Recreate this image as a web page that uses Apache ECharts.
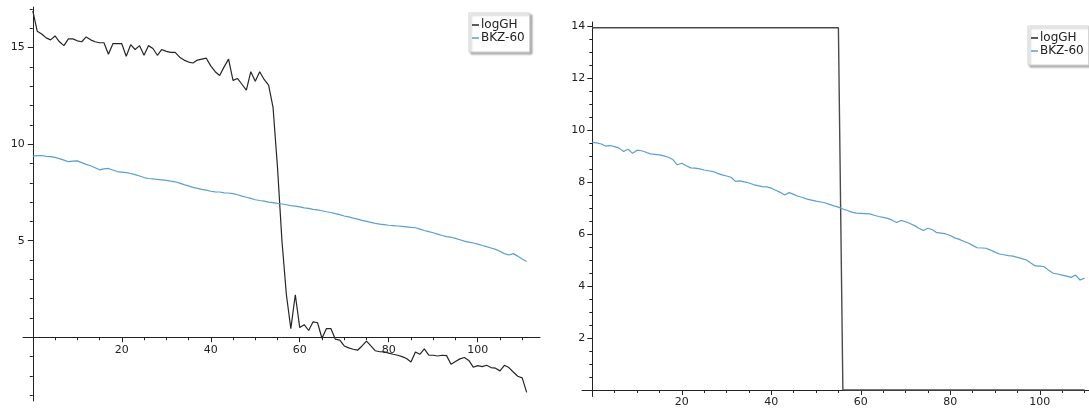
<!DOCTYPE html>
<html>
<head>
<meta charset="utf-8">
<script src="https://cdn.jsdelivr.net/npm/echarts@6/dist/echarts.min.js"></script>
<style>
  html, body { margin: 0; padding: 0; background: #fff; }
  #chart { width: 1089px; height: 409px; }
</style>
</head>
<body>
<div id="chart"></div>
<script>
// Left panel: log Gaussian-heuristic profile vs. BKZ-60 basis profile (index 0..111)
const leftLogGH = [
  16.9, 15.85, 15.7, 15.5, 15.4, 15.6, 15.3, 15.1, 15.45, 15.45,
  15.35, 15.3, 15.55, 15.4, 15.3, 15.25, 15.25, 14.65, 15.2, 15.2,
  15.2, 14.55, 15.15, 14.9, 15.1, 14.6, 15.1, 14.95, 14.6, 14.9,
  14.8, 14.75, 14.75, 14.5, 14.35, 14.25, 14.2, 14.35, 14.4, 14.45,
  14.05, 13.75, 13.55, 14.0, 14.4, 13.3, 13.4, 13.1, 12.8, 13.75,
  13.25, 13.75, 13.35, 13.05, 11.9, 8.8, 5.0, 2.2, 0.45, 2.2,
  0.5, 0.65, 0.35, 0.8, 0.75, -0.05, 0.45, 0.45, -0.1, -0.15,
  -0.45, -0.55, -0.62, -0.67, -0.45, -0.2, -0.45, -0.7, -0.75, -0.76,
  -0.82, -0.88, -0.93, -1.0, -1.1, -1.28, -0.76, -0.88, -0.6, -0.92,
  -0.93, -0.97, -0.93, -0.95, -1.4, -1.25, -1.12, -1.05, -1.2, -1.55,
  -1.47, -1.52, -1.45, -1.57, -1.6, -1.74, -1.45, -1.57, -1.8, -2.02,
  -2.1, -2.85
];
const leftBKZ = [
  9.38, 9.40, 9.41, 9.37, 9.35, 9.31, 9.25, 9.17, 9.09, 9.12,
  9.13, 9.04, 8.95, 8.88, 8.78, 8.67, 8.72, 8.74, 8.66, 8.58,
  8.55, 8.52, 8.48, 8.42, 8.35, 8.27, 8.22, 8.20, 8.17, 8.15,
  8.12, 8.08, 8.05, 7.98, 7.90, 7.84, 7.76, 7.71, 7.66, 7.62,
  7.56, 7.53, 7.52, 7.48, 7.47, 7.44, 7.38, 7.31, 7.25, 7.19,
  7.12, 7.08, 7.05, 7.00, 6.97, 6.93, 6.90, 6.86, 6.82, 6.79,
  6.75, 6.70, 6.67, 6.62, 6.60, 6.55, 6.50, 6.46, 6.40, 6.35,
  6.28, 6.23, 6.17, 6.12, 6.05, 6.00, 5.95, 5.90, 5.86, 5.83,
  5.80, 5.78, 5.76, 5.74, 5.72, 5.69, 5.67, 5.60, 5.53, 5.47,
  5.41, 5.34, 5.27, 5.21, 5.18, 5.12, 5.05, 4.98, 4.93, 4.88,
  4.82, 4.75, 4.69, 4.62, 4.55, 4.45, 4.33, 4.26, 4.33, 4.20,
  4.05, 3.92
];

// Right panel: step-shaped logGH vs. a second BKZ-60 run (index 0..110)
const rightLogGH = [
  13.93, 13.93, 13.93, 13.93, 13.93, 13.93, 13.93, 13.93, 13.93, 13.93,
  13.93, 13.93, 13.93, 13.93, 13.93, 13.93, 13.93, 13.93, 13.93, 13.93,
  13.93, 13.93, 13.93, 13.93, 13.93, 13.93, 13.93, 13.93, 13.93, 13.93,
  13.93, 13.93, 13.93, 13.93, 13.93, 13.93, 13.93, 13.93, 13.93, 13.93,
  13.93, 13.93, 13.93, 13.93, 13.93, 13.93, 13.93, 13.93, 13.93, 13.93,
  13.93, 13.93, 13.93, 13.93, 13.93, 13.93, 0, 0, 0, 0,
  0, 0, 0, 0, 0, 0, 0, 0, 0, 0,
  0, 0, 0, 0, 0, 0, 0, 0, 0, 0,
  0, 0, 0, 0, 0, 0, 0, 0, 0, 0,
  0, 0, 0, 0, 0, 0, 0, 0, 0, 0,
  0, 0, 0, 0, 0, 0, 0, 0, 0, 0,
  0
];
const rightBKZ = [
  9.52, 9.50, 9.46, 9.38, 9.40, 9.36, 9.30, 9.17, 9.26, 9.10,
  9.22, 9.20, 9.14, 9.08, 9.06, 9.04, 9.00, 8.95, 8.86, 8.66,
  8.72, 8.62, 8.54, 8.53, 8.50, 8.46, 8.43, 8.40, 8.33, 8.27,
  8.23, 8.18, 8.02, 8.04, 8.00, 7.96, 7.90, 7.86, 7.82, 7.81,
  7.76, 7.68, 7.60, 7.50, 7.59, 7.52, 7.45, 7.40, 7.34, 7.30,
  7.26, 7.23, 7.20, 7.14, 7.08, 7.03, 6.96, 6.90, 6.84, 6.80,
  6.79, 6.78, 6.77, 6.72, 6.67, 6.64, 6.60, 6.53, 6.44, 6.52,
  6.47, 6.40, 6.32, 6.22, 6.13, 6.22, 6.16, 6.05, 6.03, 6.00,
  5.94, 5.85, 5.79, 5.72, 5.65, 5.56, 5.47, 5.46, 5.45, 5.38,
  5.30, 5.23, 5.20, 5.17, 5.15, 5.10, 5.05, 5.00, 4.88, 4.77,
  4.76, 4.74, 4.60, 4.49, 4.46, 4.42, 4.38, 4.33, 4.42, 4.23,
  4.30
];

const seriesNames = ['logGH', 'BKZ-60'];

// Labelled tick positions
const leftXTicks = [20, 40, 60, 80, 100];
const leftYTicks = [5, 10, 15];
const rightXTicks = [20, 40, 60, 80, 100];
const rightYTicks = [2, 4, 6, 8, 10, 12, 14];

// Minor tick positions: every 5 on x, every 1 (left) / 0.5 (right) on y
function steps(from, to, step) {
  const out = [];
  for (let v = from; v <= to + 1e-9; v += step) out.push(Math.round(v * 100) / 100);
  return out;
}
const leftXMinor = steps(5, 110, 5);
const leftYMinor = steps(-3, 17, 1);
const rightXMinor = steps(0.5 * 10, 110, 5);
const rightYMinor = steps(0.5, 14, 0.5);

// Axis ranges and plot boxes of the two panels
const leftRange = { x: [-2.2, 114], y: [-3.3, 17.1] };
const rightRange = { x: [-2.3, 111], y: [-0.25, 14.15] };
const leftBox = { left: 23, top: 7, width: 517, height: 394 };
const rightBox = { left: 582, top: 22, width: 507, height: 374.5 };

const FONT = 'DejaVu Sans';
const INK = '#222';
const BLACK_LINE = '#262626';
const BLUE_LINE = '#5a9fd4';

function pairs(values) {
  return values.map((v, i) => [i, v]);
}

// Distance (px) from the box edge to the value 0 along an axis; axes cross at the origin
function zeroShift(range, length) {
  return -length * (0 - range[0]) / (range[1] - range[0]);
}

function majorAxis(gridIndex, range, ticks, position, margin, offset) {
  return {
    type: 'value', gridIndex, min: range[0], max: range[1], position, offset,
    axisLine: { show: true, onZero: false, lineStyle: { color: INK, width: 1 } },
    axisTick: { show: true, customValues: ticks, length: 5, lineStyle: { color: INK, width: 1 } },
    axisLabel: { show: true, customValues: ticks, margin, color: INK, fontSize: 11, fontFamily: FONT },
    splitLine: { show: false }
  };
}
function minorAxis(gridIndex, range, ticks, position, offset) {
  return {
    type: 'value', gridIndex, min: range[0], max: range[1], position, offset,
    axisLine: { show: false, onZero: false },
    axisTick: { show: true, customValues: ticks, length: 3, lineStyle: { color: INK, width: 1 } },
    axisLabel: { show: false },
    splitLine: { show: false }
  };
}

function legendBox(left, top) {
  return {
    orient: 'vertical', left, top,
    data: seriesNames,
    icon: 'rect', itemWidth: 7, itemHeight: 1.5, itemGap: 1,
    padding: [6, 5, 8, 3],
    backgroundColor: '#fff', borderColor: '#d0d0d0', borderWidth: 1,
    shadowColor: 'rgba(0,0,0,0.3)', shadowBlur: 2, shadowOffsetX: 2, shadowOffsetY: 2,
    textStyle: { fontSize: 12, fontFamily: FONT, color: INK, lineHeight: 12, padding: [0, 0, 0, -3] },
    selectedMode: false
  };
}

const lxOff = zeroShift(leftRange.y, leftBox.height);
const lyOff = zeroShift(leftRange.x, leftBox.width);
const rxOff = zeroShift(rightRange.y, rightBox.height);
const ryOff = zeroShift(rightRange.x, rightBox.width);

const chart = echarts.init(document.getElementById('chart'), null, { renderer: 'canvas' });
chart.setOption({
  animation: false,
  backgroundColor: '#fff',
  grid: [
    Object.assign({ outerBoundsMode: 'none', containLabel: false }, leftBox),
    Object.assign({ outerBoundsMode: 'none', containLabel: false }, rightBox)
  ],
  xAxis: [
    majorAxis(0, leftRange.x, leftXTicks, 'bottom', 7, lxOff),
    minorAxis(0, leftRange.x, leftXMinor, 'bottom', lxOff),
    majorAxis(1, rightRange.x, rightXTicks, 'bottom', 7, rxOff),
    minorAxis(1, rightRange.x, rightXMinor, 'bottom', rxOff)
  ],
  yAxis: [
    majorAxis(0, leftRange.y, leftYTicks, 'left', 8, lyOff),
    minorAxis(0, leftRange.y, leftYMinor, 'left', lyOff),
    majorAxis(1, rightRange.y, rightYTicks, 'left', 7, ryOff),
    minorAxis(1, rightRange.y, rightYMinor, 'left', ryOff)
  ],
  legend: [legendBox(469, 13), legendBox(1028, 26)],
  series: [
    {
      name: 'logGH', type: 'line', xAxisIndex: 0, yAxisIndex: 0,
      data: pairs(leftLogGH), showSymbol: false, silent: true,
      itemStyle: { color: BLACK_LINE }, lineStyle: { color: BLACK_LINE, width: 1.2 }
    },
    {
      name: 'BKZ-60', type: 'line', xAxisIndex: 0, yAxisIndex: 0,
      data: pairs(leftBKZ), showSymbol: false, silent: true,
      itemStyle: { color: BLUE_LINE }, lineStyle: { color: BLUE_LINE, width: 1.2 }
    },
    {
      name: 'logGH', type: 'line', xAxisIndex: 2, yAxisIndex: 2,
      data: pairs(rightLogGH), showSymbol: false, silent: true,
      itemStyle: { color: BLACK_LINE }, lineStyle: { color: '#4a4a4a', width: 1.4 }
    },
    {
      name: 'BKZ-60', type: 'line', xAxisIndex: 2, yAxisIndex: 2,
      data: pairs(rightBKZ), showSymbol: false, silent: true,
      itemStyle: { color: BLUE_LINE }, lineStyle: { color: BLUE_LINE, width: 1.2 }
    }
  ]
});
</script>
</body>
</html>
